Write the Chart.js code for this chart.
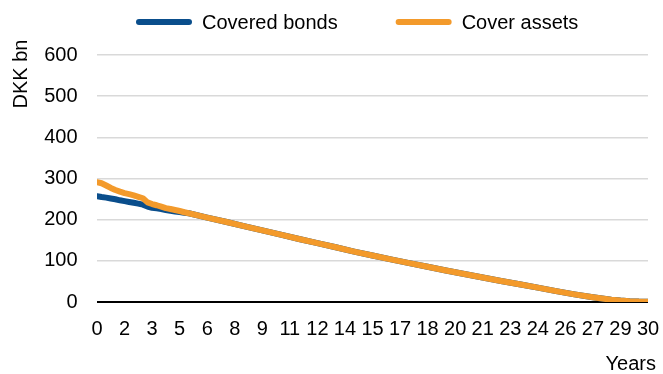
<!DOCTYPE html>
<html>
<head>
<meta charset="utf-8">
<script src="https://cdn.jsdelivr.net/npm/chart.js@4.4.1/dist/chart.umd.min.js"></script>
<style>
  html, body { margin: 0; padding: 0; background: #fff; }
  #wrap { position: relative; width: 663px; height: 374px; }
</style>
</head>
<body>
<div id="wrap"><canvas id="c" width="663" height="374"></canvas></div>
<script>
// Run-off profile, years from today
const years = [0, 0.25, 0.5, 0.75, 1, 1.25, 1.5, 1.75, 2, 2.25, 2.5, 2.75, 3, 3.25, 3.5, 3.75,
  4, 4.25, 4.5, 4.75, 5, 6, 7, 8, 9, 10, 11, 12, 13, 14, 15, 16, 17, 18, 19, 20,
  21, 22, 23, 24, 25, 26, 27, 27.5, 28, 28.5, 29, 29.5, 30];

// DKK bn outstanding
const coveredBonds = [257, 255, 253.5, 251.5, 249.5, 247, 245, 243, 241, 239, 236.5, 232, 229, 227.5, 226, 223.5,
  221.5, 220, 218.5, 217, 215.5, 205, 195, 184.5, 174, 163.5, 153, 143, 133, 122.5, 113, 103.5, 94.5, 85.5, 76.5, 68,
  59.5, 51, 43, 35, 26.5, 18.5, 11.5, 8.5, 5.5, 3.5, 2, 1, 0.5];
const coverAssets = [291, 288.5, 283, 277, 272, 268, 264.5, 262, 259, 255.5, 252, 242, 238, 235, 231.5, 228,
  226, 223.5, 221, 218, 215.5, 205, 195, 184.5, 174, 163.5, 153, 143, 133, 122.5, 113, 103.5, 94.5, 85.5, 76.5, 68,
  59.5, 51, 43, 35, 26.5, 18.5, 11.5, 8.5, 5.5, 3.5, 2, 1, 0.5];

// Category ticks every six quarters, shown rounded to whole years
const tickValues = [0, 1.5, 3, 4.5, 6, 7.5, 9, 10.5, 12, 13.5, 15, 16.5, 18, 19.5, 21, 22.5, 24, 25.5, 27, 28.5, 30];
const tickLabels = ['0', '2', '3', '5', '6', '8', '9', '11', '12', '14', '15', '17', '18', '20', '21', '23', '24', '26', '27', '29', '30'];

const seriesNames = ['Covered bonds', 'Cover assets'];
const seriesColors = ['#0a4e8c', '#f39a2b'];

const FONT = '"Liberation Sans", Arial, sans-serif';
const FONT_SIZE = 20;

// Legend and axis titles drawn onto the canvas
const decorations = {
  id: 'decorations',
  afterDraw(chart) {
    const ctx = chart.ctx;
    ctx.save();
    ctx.font = FONT_SIZE + 'px ' + FONT;
    ctx.fillStyle = '#000';
    ctx.textBaseline = 'alphabetic';

    let x = 136;
    const y = 22;
    const sample = 56;
    chart.data.datasets.forEach(ds => {
      ctx.strokeStyle = ds.borderColor;
      ctx.lineWidth = 6;
      ctx.lineCap = 'round';
      ctx.beginPath();
      ctx.moveTo(x + 3, y);
      ctx.lineTo(x + sample - 3, y);
      ctx.stroke();
      ctx.textAlign = 'left';
      ctx.fillText(ds.label, x + sample + 10, y + 7);
      x += sample + 10 + ctx.measureText(ds.label).width + 58;
    });

    ctx.save();
    ctx.translate(26.5, 74);
    ctx.rotate(-Math.PI / 2);
    ctx.textAlign = 'center';
    ctx.fillText('DKK bn', 0, 0);
    ctx.restore();

    ctx.textAlign = 'right';
    ctx.fillText('Years', 656, 370);
    ctx.restore();
  }
};

const toPoints = vals => years.map((yr, i) => ({ x: yr, y: vals[i] }));

new Chart(document.getElementById('c'), {
  type: 'line',
  data: {
    datasets: [
      {
        label: seriesNames[0],
        data: toPoints(coveredBonds),
        borderColor: seriesColors[0],
        backgroundColor: seriesColors[0],
        borderWidth: 6,
        pointRadius: 0,
        tension: 0,
        borderCapStyle: 'round',
        borderJoinStyle: 'round',
        order: 1
      },
      {
        label: seriesNames[1],
        data: toPoints(coverAssets),
        borderColor: seriesColors[1],
        backgroundColor: seriesColors[1],
        borderWidth: 6,
        pointRadius: 0,
        tension: 0,
        borderCapStyle: 'round',
        borderJoinStyle: 'round',
        order: 0
      }
    ]
  },
  options: {
    responsive: false,
    animation: false,
    layout: { padding: { left: 0, right: 15, top: 55, bottom: 0 } },
    plugins: {
      legend: { display: false },
      tooltip: { enabled: false }
    },
    scales: {
      x: {
        type: 'linear',
        min: 0,
        max: 30,
        grid: { display: false },
        border: { display: false },
        afterBuildTicks: scale => { scale.ticks = tickValues.map(v => ({ value: v })); },
        afterFit: scale => {
          scale.height = 72;
          scale.paddingLeft = 0;
          scale.paddingRight = 0;
        },
        ticks: {
          autoSkip: false,
          maxRotation: 0,
          minRotation: 0,
          padding: 7,
          color: '#000',
          font: { family: FONT, size: FONT_SIZE }
          ,
          callback: (value, index) => tickLabels[index]
        }
      },
      y: {
        min: 0,
        max: 600,
        afterFit: scale => {
          scale.width = 97;
          scale.paddingTop = 0;
          scale.paddingBottom = 0;
        },
        border: { display: false },
        grid: {
          drawTicks: false,
          color: c => (c.tick && c.tick.value === 0 ? '#000' : '#d9d9d9'),
          lineWidth: c => (c.tick && c.tick.value === 0 ? 2 : 1.5)
        },
        ticks: {
          stepSize: 100,
          padding: 19.5,
          color: '#000',
          font: { family: FONT, size: FONT_SIZE }
        }
      }
    }
  },
  plugins: [decorations]
});
</script>
</body>
</html>
